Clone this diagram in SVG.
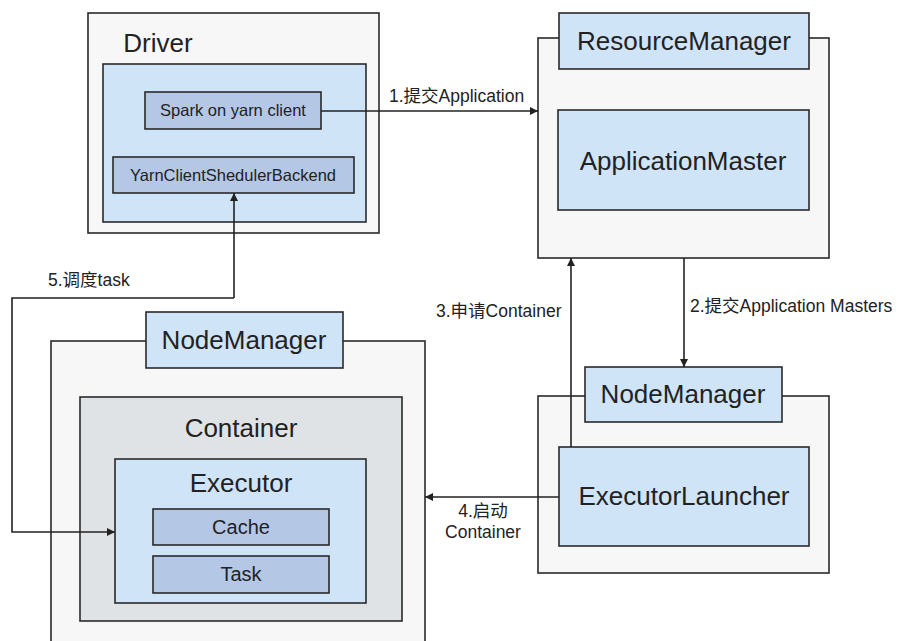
<svg xmlns="http://www.w3.org/2000/svg" width="899" height="641" viewBox="0 0 899 641">
<defs>
<marker id="ah" viewBox="0 0 10 10" refX="10" refY="5" markerWidth="9" markerHeight="8" markerUnits="userSpaceOnUse" orient="auto">
<path d="M0,0 L10,5 L0,10 z" fill="#222"/>
</marker>
<style>
.outer{fill:#f7f7f7;stroke:#2a2a2a;stroke-width:1.6}
.blue{fill:#d0e4f8;stroke:#2a2a2a;stroke-width:1.6}
.dark{fill:#b4c7e5;stroke:#2a2a2a;stroke-width:1.6}
.grey{fill:#e0e3e5;stroke:#2a2a2a;stroke-width:1.6}
.big{font-family:"Liberation Sans",Arial,sans-serif;font-size:26px;fill:#222;text-anchor:middle}
.mid{font-family:"Liberation Sans",Arial,sans-serif;font-size:20px;fill:#222;text-anchor:middle}
.sm{font-family:"Liberation Sans",Arial,sans-serif;font-size:16.5px;fill:#222;text-anchor:middle}
.lbl{font-family:"Liberation Sans",Arial,"Noto Sans CJK SC",sans-serif;font-size:17.5px;fill:#222}
.con{fill:none;stroke:#222;stroke-width:1.6}
</style>
</defs>
<rect width="899" height="641" fill="#ffffff"/>

<g id="driver">
<rect class="outer" x="88" y="13" width="291" height="220"/>
<text class="big" x="158" y="52" text-anchor="middle">Driver</text>
<rect class="blue" x="103" y="64" width="263" height="158"/>
</g>
<g id="spark-client">
<rect class="dark" x="145" y="92" width="176" height="37"/>
<text class="sm" x="233" y="116">Spark on yarn client</text>
</g>
<g id="yarn-backend">
<rect class="dark" x="113" y="157" width="241" height="36"/>
<text class="sm" x="233" y="181">YarnClientShedulerBackend</text>
</g>

<g id="resource-manager">
<rect class="outer" x="538" y="38" width="291" height="220"/>
<rect class="blue" x="559" y="13" width="250" height="56"/>
<text class="big" x="684" y="50">ResourceManager</text>
</g>
<g id="application-master">
<rect class="blue" x="558" y="110" width="251" height="100"/>
<text class="big" x="683" y="170">ApplicationMaster</text>
</g>

<g id="nodemanager-right">
<rect class="outer" x="538" y="396" width="291" height="177"/>
<rect class="blue" x="585" y="367" width="197" height="55"/>
<text class="big" x="683" y="403">NodeManager</text>
</g>
<g id="executor-launcher">
<rect class="blue" x="559" y="447" width="250" height="99"/>
<text class="big" x="684" y="505">ExecutorLauncher</text>
</g>

<g id="nodemanager-left">
<rect class="outer" x="51" y="341" width="374" height="320"/>
<rect class="blue" x="146" y="312" width="197" height="56"/>
<text class="big" x="244" y="349">NodeManager</text>
</g>
<g id="container">
<rect class="grey" x="80" y="397" width="322" height="224"/>
<text class="big" x="241" y="437">Container</text>
</g>
<g id="executor">
<rect class="blue" x="115" y="459" width="251" height="144"/>
<text class="big" x="241" y="492">Executor</text>
</g>
<g id="cache">
<rect class="dark" x="153" y="509" width="176" height="36"/>
<text class="mid" x="241" y="534">Cache</text>
</g>
<g id="task">
<rect class="dark" x="153" y="556" width="176" height="37"/>
<text class="mid" x="241" y="581">Task</text>
</g>

<g id="connectors">
<path class="con" d="M321,111 L538,111" marker-end="url(#ah)"/>
<text class="lbl" x="389" y="102">1.提交Application</text>
<path class="con" d="M684,258 L684,367" marker-end="url(#ah)"/>
<text class="lbl" x="690" y="312">2.提交Application Masters</text>
<path class="con" d="M571,447 L571,258" marker-end="url(#ah)"/>
<text class="lbl" x="436" y="317">3.申请Container</text>
<path class="con" d="M559,497 L425,497" marker-end="url(#ah)"/>
<text class="lbl" x="483" y="517" text-anchor="middle">4.启动</text>
<text class="lbl" x="483" y="538" text-anchor="middle">Container</text>
<path class="con" d="M234,298 L234,193" marker-end="url(#ah)"/>
<path class="con" d="M234,298 L12,298 L12,532 L115,532" marker-end="url(#ah)"/>
<text class="lbl" x="48" y="286">5.调度task</text>
</g>
</svg>
